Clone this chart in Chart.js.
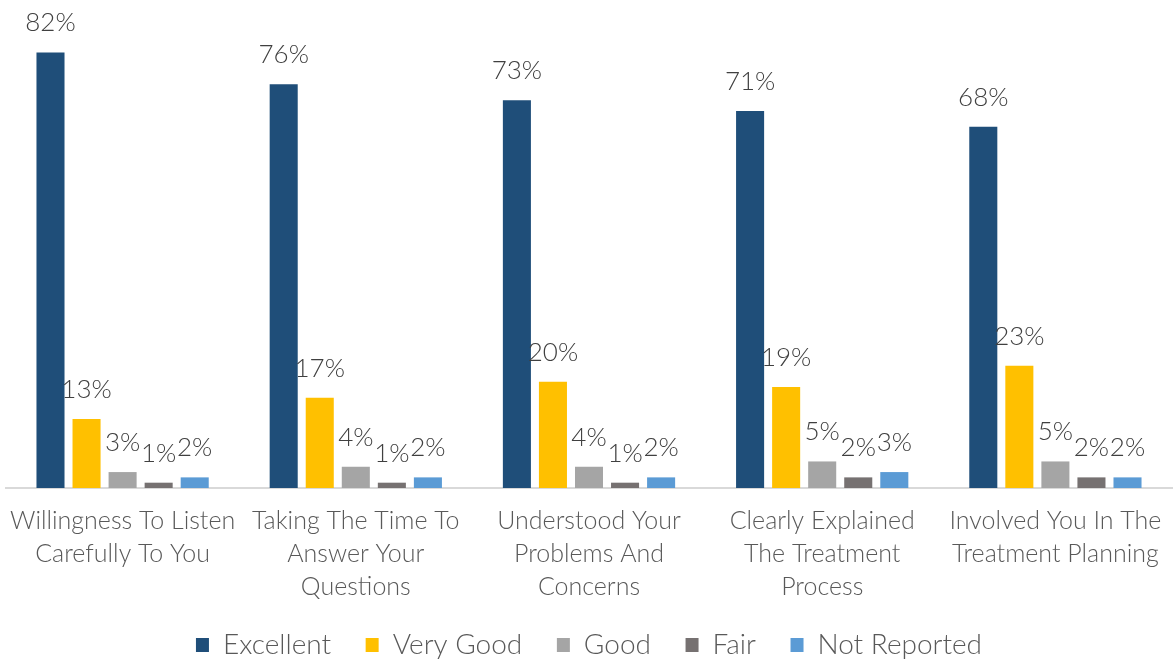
<!DOCTYPE html>
<html>
<head>
<meta charset="utf-8">
<script src="https://cdn.jsdelivr.net/npm/chart.js@4.4.1/dist/chart.umd.min.js"></script>
<style>
  html, body { margin: 0; padding: 0; background: #ffffff; }
  #wrap { width: 1176px; height: 659px; position: relative; }
</style>
</head>
<body>
<div id="wrap"><canvas id="chart"></canvas></div>
<script>
// Survey categories (each split over lines for the axis)
const categories = [
  ["Willingness To Listen", "Carefully To You"],
  ["Taking The Time To", "Answer Your", "Questions"],
  ["Understood Your", "Problems And", "Concerns"],
  ["Clearly Explained", "The Treatment", "Process"],
  ["Involved You In The", "Treatment Planning"]
];

// Share of responses per rating, in percent
const excellent   = [82, 76, 73, 71, 68];
const veryGood    = [13, 17, 20, 19, 23];
const good        = [3, 4, 4, 5, 5];
const fair        = [1, 1, 1, 2, 2];
const notReported = [2, 2, 2, 3, 2];

const seriesNames  = ["Excellent", "Very Good", "Good", "Fair", "Not Reported"];
const seriesColors = ["#1F4E79", "#FFC000", "#A5A5A5", "#767171", "#5B9BD5"];
const seriesValues = [excellent, veryGood, good, fair, notReported];

const FONT = "Lato, 'Open Sans', sans-serif";
const WEIGHT = 300;

// Percent labels drawn above each bar
const valueLabels = {
  id: "valueLabels",
  afterDatasetsDraw(chart) {
    const ctx = chart.ctx;
    ctx.save();
    ctx.font = WEIGHT + " 26px " + FONT;
    ctx.fillStyle = "#404040";
    ctx.textAlign = "center";
    ctx.textBaseline = "alphabetic";
    chart.data.datasets.forEach((ds, i) => {
      const meta = chart.getDatasetMeta(i);
      meta.data.forEach((bar, j) => {
        ctx.fillText(ds.data[j] + "%", bar.x, bar.y - 21);
      });
    });
    ctx.restore();
  }
};

new Chart(document.getElementById("chart"), {
  type: "bar",
  data: {
    labels: categories,
    datasets: seriesValues.map((vals, i) => ({
      label: seriesNames[i],
      data: vals,
      backgroundColor: seriesColors[i],
      borderWidth: 0,
      categoryPercentage: 0.773,
      barPercentage: 0.778
    }))
  },
  options: {
    responsive: true,
    maintainAspectRatio: false,
    animation: false,
    devicePixelRatio: 1,
    layout: { padding: { top: 10, left: 6, right: 4, bottom: 0 } },
    plugins: {
      tooltip: { enabled: false },
      legend: {
        position: "bottom",
        maxHeight: 55,
        labels: {
          font: { family: FONT, size: 28, weight: WEIGHT },
          color: "#595959",
          boxWidth: 13,
          boxHeight: 14,
          padding: 27,
          // a little extra room after each entry but the last
          generateLabels(chart) {
            const items = Chart.defaults.plugins.legend.labels.generateLabels(chart);
            items.forEach((it, k) => {
              if (k < items.length - 1) it.text = it.text + " ";
            });
            return items;
          }
        }
      }
    },
    scales: {
      x: {
        grid: { display: false, drawTicks: false },
        border: { color: "#D9D9D9", width: 2 },
        ticks: {
          font: { family: FONT, size: 25, weight: WEIGHT, lineHeight: 1.32 },
          color: "#595959",
          padding: 16,
          maxRotation: 0,
          autoSkip: false
        },
        afterFit(scale) {
          scale.paddingLeft = 0;
          scale.paddingRight = 0;
          scale.height = 116;
        }
      },
      y: {
        display: false,
        min: 0,
        max: 90
      }
    }
  },
  plugins: [valueLabels]
});
</script>
</body>
</html>
